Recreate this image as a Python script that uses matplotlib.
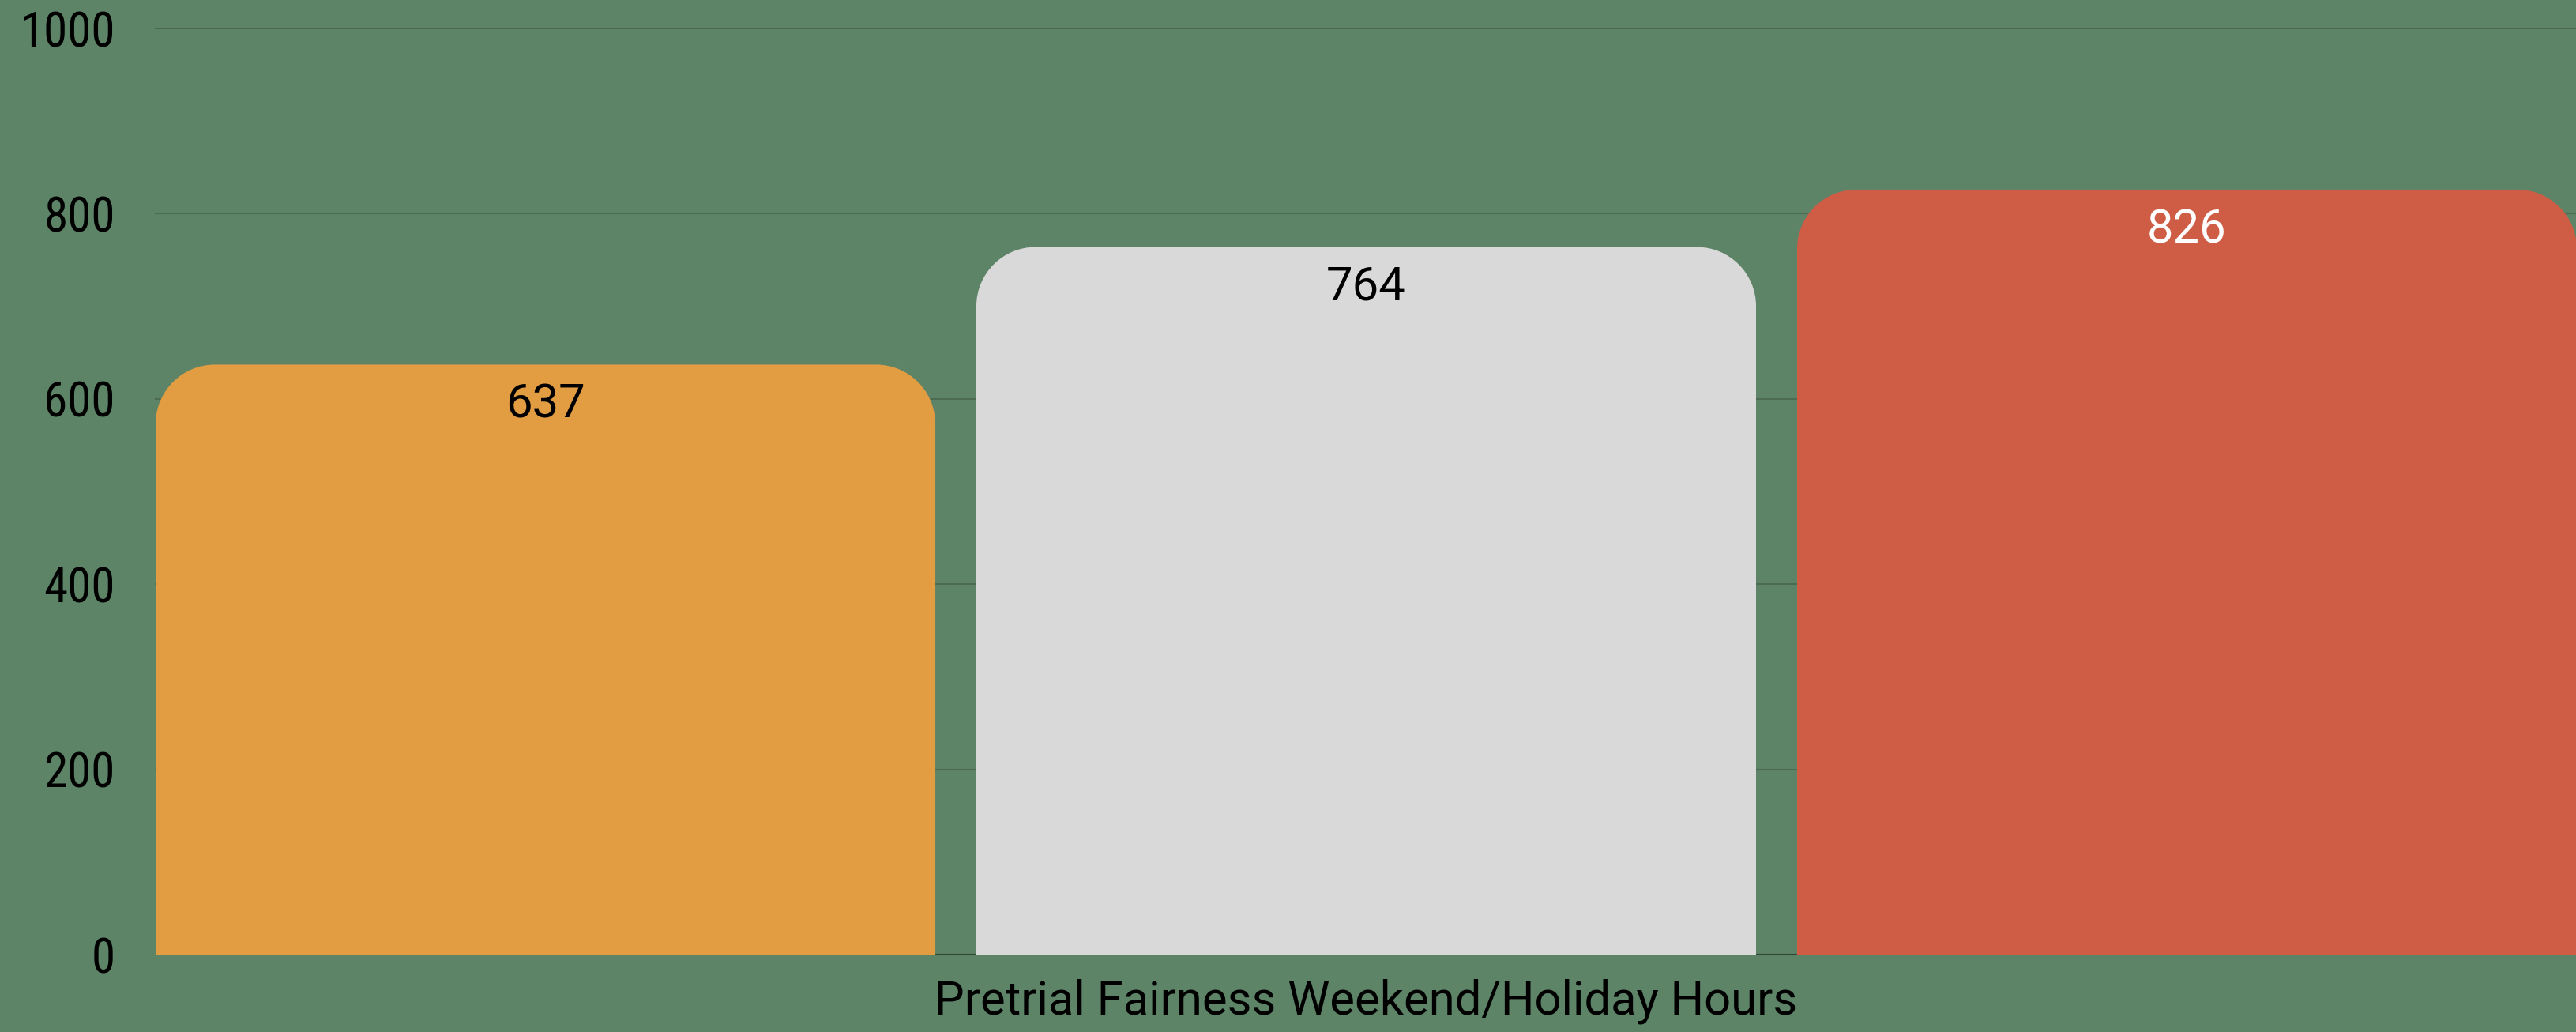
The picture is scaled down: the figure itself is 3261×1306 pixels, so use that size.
import numpy as np
import matplotlib
matplotlib.use("Agg")
import matplotlib.pyplot as plt
from matplotlib.path import Path
from matplotlib.patches import PathPatch

# data
categories = ["Series 1", "Series 2", "Series 3"]
values = [637, 764, 826]
bar_colors = ["#e29c42", "#d9d9d9", "#cf5c45"]
label_colors = ["black", "black", "white"]
y_ticks = [0, 200, 400, 600, 800, 1000]
x_title = "Pretrial Fairness Weekend/Holiday Hours"

BG = "#5e8468"
W, H = 3262, 1306
plt.rcParams["font.family"] = ["Roboto Condensed", "Liberation Sans Narrow", "DejaVu Sans"]
WIDE = ["Roboto", "Liberation Sans", "DejaVu Sans"]


def rounded_top(x0, x1, y0, y1, rx, ry):
    # bar outline with rounded top corners (ellipse in data, circle on screen)
    k = 0.5523
    verts = [(x0, y0), (x0, y1 - ry),
             (x0, y1 - ry + k * ry), (x0 + rx - k * rx, y1), (x0 + rx, y1),
             (x1 - rx, y1),
             (x1 - rx + k * rx, y1), (x1, y1 - ry + k * ry), (x1, y1 - ry),
             (x1, y0), (x0, y0)]
    codes = [Path.MOVETO, Path.LINETO,
             Path.CURVE4, Path.CURVE4, Path.CURVE4,
             Path.LINETO,
             Path.CURVE4, Path.CURVE4, Path.CURVE4,
             Path.LINETO, Path.CLOSEPOLY]
    return Path(verts, codes)


fig = plt.figure(figsize=(W / 100, H / 100), dpi=100, facecolor=BG)
left, right, top, bottom = 197, 3262, 36, 1208
ax = fig.add_axes([left / W, (H - bottom) / H, (right - left) / W, (bottom - top) / H])
ax.set_facecolor(BG)

x = np.arange(len(values))
bars = ax.bar(x, values, width=0.95, color=bar_colors, zorder=3)
ax.set_xlim(-0.475, 2.475)
ax.set_ylim(0, 1000)

# swap plain rectangles for rounded-top shapes
px_per_x = (right - left) / 2.95
px_per_y = (bottom - top) / 1000
r_px = 75
for b, c in zip(bars, bar_colors):
    x0, y0 = b.get_x(), b.get_y()
    x1, y1 = x0 + b.get_width(), y0 + b.get_height()
    p = rounded_top(x0, x1, y0, y1, r_px / px_per_x, r_px / px_per_y)
    ax.add_patch(PathPatch(p, facecolor=c, edgecolor="none", zorder=3, clip_on=False))
    b.set_visible(False)

for xi, v, lc in zip(x, values, label_colors):
    ax.annotate(str(v), (xi, v), xytext=(0, -16), textcoords="offset points",
                ha="center", va="top", fontsize=43, color=lc, zorder=4,
                family=WIDE)

ax.set_yticks(y_ticks)
ax.set_yticklabels([str(t) for t in y_ticks], fontsize=44)
ax.tick_params(axis="y", length=0, pad=37)
ax.set_xticks([])
for t in y_ticks[1:]:
    ax.axhline(t, color="#4b6c52", lw=1.5, zorder=1, clip_on=False)
ax.axhline(0, color="#2f4535", lw=1.5, zorder=2)
for s in ax.spines.values():
    s.set_visible(False)

ax.set_xlabel(x_title, fontsize=43, labelpad=22, family=WIDE)

fig.savefig("out.png", dpi=100, facecolor=BG)
